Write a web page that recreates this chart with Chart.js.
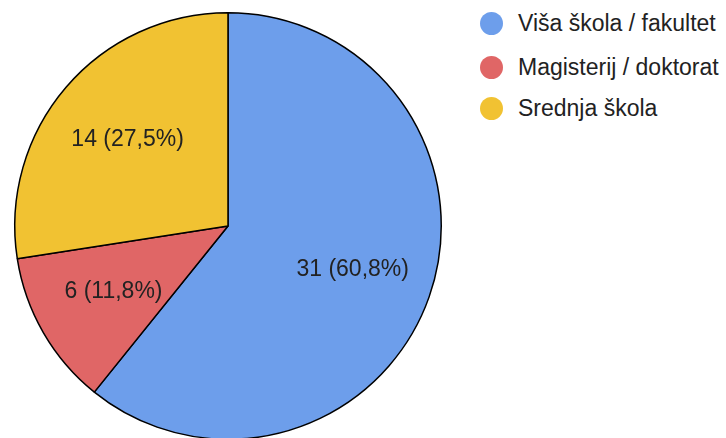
<!DOCTYPE html>
<html>
<head>
<meta charset="utf-8">
<script src="https://cdn.jsdelivr.net/npm/chart.js@4"></script>
<style>
    html, body { margin: 0; padding: 0; background: #fff; }
    #wrap { position: relative; width: 726px; height: 438px; overflow: hidden; }
    #chart-box { position: absolute; left: 0; top: 0; width: 460px; height: 460px; }
    #legend { position: absolute; left: 480px; top: 0; font-family: Arial, "Liberation Sans", sans-serif; font-size: 23px; color: #222; }
    .row { position: absolute; left: 0; white-space: nowrap; height: 24px; }
    .dot { position: absolute; left: 0; top: 0; width: 23px; height: 23px; border-radius: 50%; }
    .txt { position: absolute; left: 38px; top: -4px; line-height: 30px; }
</style>
</head>
<body>
<div id="wrap">
    <div id="chart-box"><canvas id="pie"></canvas></div>
    <div id="legend"></div>
</div>
<script>
// podaci
const labels = ['Viša škola / fakultet', 'Magisterij / doktorat', 'Srednja škola'];
const counts = [31, 6, 14];
const percents = ['60,8%', '11,8%', '27,5%'];
const colors = ['#6d9eeb', '#e06666', '#f1c232'];

// oznake unutar isječaka
const sliceLabels = {
    id: 'sliceLabels',
    afterDatasetsDraw(chart) {
        const ctx = chart.ctx;
        const meta = chart.getDatasetMeta(0);
        ctx.save();
        ctx.font = '23px Arial, "Liberation Sans", sans-serif';
        ctx.fillStyle = '#222';
        ctx.textAlign = 'center';
        ctx.textBaseline = 'middle';
        meta.data.forEach(function(arc, i) {
            const p = arc.getProps(['x', 'y', 'startAngle', 'endAngle', 'outerRadius']);
            const mid = (p.startAngle + p.endAngle) / 2;
            const r = p.outerRadius * 0.62;
            ctx.fillText(counts[i] + ' (' + percents[i] + ')', p.x + Math.cos(mid) * r, p.y + Math.sin(mid) * r);
        });
        ctx.restore();
    }
};

new Chart(document.getElementById('pie'), {
    type: 'pie',
    data: {
        labels: labels,
        datasets: [{
            data: counts,
            backgroundColor: colors,
            borderColor: '#000',
            borderWidth: 1.5
        }]
    },
    options: {
        responsive: true,
        maintainAspectRatio: false,
        animation: false,
        layout: { padding: { left: 14, top: 12, right: 18, bottom: 20 } },
        plugins: {
            legend: { display: false },
            tooltip: { enabled: false }
        }
    },
    plugins: [sliceLabels]
});

// legenda
const legendEl = document.getElementById('legend');
const rowTops = [12, 56, 97];
labels.forEach(function(name, i) {
    const row = document.createElement('div');
    row.className = 'row';
    row.style.top = rowTops[i] + 'px';
    row.innerHTML = '<span class="dot" style="background:' + colors[i] + '"></span><span class="txt">' + name + '</span>';
    legendEl.appendChild(row);
});
</script>
</body>
</html>
